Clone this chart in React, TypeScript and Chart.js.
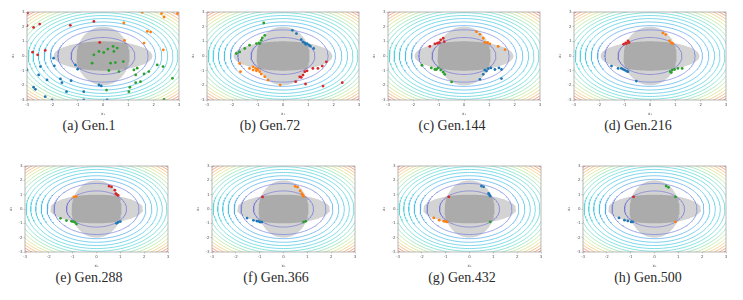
import React, { useEffect, useRef } from "react";
import { Chart, registerables } from "chart.js";
Chart.register(...registerables);

// ---------- data ----------
const AXIS_TICKS = [-3, -2, -1, 0, 1, 2, 3];
const AXIS_RANGE = [-3, 3];
// radii of the objective contours (inner to outer)
const CONTOUR_RADII = [1.26, 1.78, 2.07, 2.32, 2.55, 2.76, 2.95, 3.13, 3.3, 3.46, 3.62, 3.77, 3.91, 4.05, 4.18];
// constraint ellipses: [semi-x, semi-y]
const WIDE_ELLIPSE = [1.95, 1.0];
const TALL_ELLIPSE = [1.05, 2.0];

const GEN1_RED = [[-2.98, 2.93], [-3.0, 2.07], [-2.74, 1.95], [-2.5, 2.18], [-2.78, 0.26], [-2.58, 0.08], [-2.28, 0.38], [-1.29, 2.09], [-0.36, 2.36], [-0.13, 0.92]];
const GEN1_ORANGE = [[1.55, 2.98], [2.31, 2.89], [2.41, 2.66], [2.94, 2.89], [0.82, 2.25], [1.75, 1.68], [1.88, 1.63], [1.62, 0.88], [2.38, 0.42], [0.85, 1.06]];
const GEN1_GREEN = [[0.4, 0.65], [0.56, 0.54], [0.19, 0.47], [0.03, 0.24], [-0.16, 0.31], [-0.36, 0.08], [-0.43, -0.49], [0.3, -0.49], [0.49, -0.45], [0.8, -0.38], [0.63, -1.06], [0.23, -0.99], [1.22, -0.95], [1.35, -0.83], [1.29, -1.29], [1.62, -1.22], [1.81, -1.06], [2.14, -0.61], [2.37, -0.72], [2.74, -1.52], [1.48, -1.75], [1.29, -1.82], [1.06, -2.13], [1.02, -2.43], [2.41, -2.96], [0.14, -2.32], [0.43, 0.31]];
const GEN1_BLUE = [[-3.0, -0.95], [-2.47, -0.72], [-2.54, -1.29], [-1.95, -0.15], [-1.92, -0.67], [-2.21, -1.63], [-2.67, -2.27], [-2.74, -2.13], [-1.68, -1.56], [-1.62, -1.82], [-1.09, -0.61], [-1.0, -0.9], [-1.26, -1.68], [-1.44, -2.43], [-2.01, -3.0], [-2.28, -2.77], [-0.76, -2.43], [-0.76, -3.0], [-0.16, -1.97], [-0.07, -2.04], [0.16, -3.0]];

const GEN72_RED = [[0.79, -1.3], [0.86, -1.07], [0.95, -1.01], [0.72, -1.46], [0.5, -1.75], [1.18, -0.85], [1.38, -0.85], [1.55, -0.69], [1.71, -0.4], [0.89, -1.91], [1.58, -2.05], [2.34, -1.82], [0.66, -1.42]];
const GEN72_ORANGE = [[-1.71, -0.51], [-1.68, -1.07], [-1.32, -0.85], [-1.18, -0.96], [-1.05, -1.01], [-0.99, -0.92], [-0.92, -1.07], [-0.86, -1.23], [-0.72, -1.41], [-0.59, -1.64], [-0.11, -1.98], [-1.18, -0.74], [-1.08, -0.85]];
const GEN72_GREEN = [[-0.76, 2.25], [-1.32, 0.74], [-1.51, 0.51], [-1.71, 0.28], [-1.84, 0.17], [-1.05, 0.85], [-0.95, 0.89], [-0.86, 1.07], [-0.82, 1.23], [-0.72, 1.41], [-0.92, 0.85]];
const GEN72_BLUE = [[0.37, 1.75], [0.53, 1.53], [0.79, 0.96], [0.86, 0.89], [0.95, 0.85], [1.03, 0.74], [0.72, 1.12], [1.21, 0.51], [1.08, 0.67], [0.9, 0.8]];

const GEN144_RED = [[-1.35, 0.65], [-1.15, 0.83], [-1.05, 0.87], [-0.92, 1.1], [-0.82, 1.21], [-0.78, 0.98], [-0.97, 0.92]];
const GEN144_ORANGE = [[0.49, 1.66], [0.63, 1.48], [0.76, 1.21], [0.82, 0.92], [0.93, 0.92], [1.02, 0.83], [1.35, 0.65], [1.62, 0.43]];
const GEN144_GREEN = [[-1.66, -0.63], [-1.29, -0.81], [-1.15, -0.92], [-1.02, -0.81], [-0.92, -0.96], [-0.82, -1.1], [-0.76, -1.25], [-0.49, -1.77], [-1.09, -0.92]];
const GEN144_BLUE = [[0.82, -0.96], [0.96, -0.87], [1.06, -0.81], [1.22, -0.92], [1.38, -0.81], [1.48, -0.92], [0.63, -1.59], [0.76, -1.25], [1.48, -1.54], [0.89, -1.03]];

const GEN216_RED = [[-1.04, 0.8], [-0.96, 0.89], [-0.87, 1.03], [-0.83, 0.92], [-0.93, 0.85]];
const GEN216_ORANGE = [[0.51, 1.57], [0.62, 1.46], [0.77, 1.03], [0.84, 0.89], [0.9, 0.85]];
const GEN216_GREEN = [[0.8, -1.07], [0.88, -0.96], [0.97, -0.92], [1.1, -0.85], [1.27, -0.85], [0.84, -1.13]];
const GEN216_BLUE = [[-1.52, -0.69], [-1.26, -0.85], [-1.13, -0.85], [-1.0, -0.96], [-0.93, -1.03], [-0.87, -1.07], [-0.54, -1.71], [-1.06, -0.91]];

const GEN288_RED = [[0.53, 1.59], [0.63, 1.54], [0.77, 1.31], [0.81, 1.07], [0.91, 0.95], [0.86, 1.0]];
const GEN288_ORANGE = [[-0.95, 0.84], [-0.86, 0.88]];
const GEN288_GREEN = [[-1.51, -0.65], [-1.26, -0.81], [-1.05, -0.86], [-0.91, -0.93], [-0.84, -1.05], [-0.98, -0.88]];
const GEN288_BLUE = [[0.84, -1.0], [0.91, -0.93], [1.0, -0.88]];

const GEN366_RED = [[-0.88, 0.84]];
const GEN366_ORANGE = [[0.49, 1.58], [0.59, 1.53], [0.7, 1.26], [0.77, 1.07], [0.84, 0.88], [0.81, 0.97]];
const GEN366_GREEN = [[0.84, -0.91], [0.93, -0.86]];
const GEN366_BLUE = [[-1.53, -0.63], [-1.26, -0.79], [-1.12, -0.84], [-0.98, -0.91], [-0.91, -0.91], [-1.05, -0.86]];

const GEN432_RED = [[-0.87, 0.85]];
const GEN432_ORANGE = [[-1.5, -0.62], [-1.27, -0.78], [-1.08, -0.85], [-0.94, -0.9], [-1.01, -0.88]];
const GEN432_GREEN = [[0.87, -0.9]];
const GEN432_BLUE = [[0.5, 1.6], [0.59, 1.55], [0.8, 1.09], [0.87, 0.9], [0.84, 0.98]];

const GEN500_RED = [[-0.88, 0.85]];
const GEN500_ORANGE = [[0.88, -0.9]];
const GEN500_GREEN = [[0.49, 1.6], [0.59, 1.51], [0.88, 0.85]];
const GEN500_BLUE = [[-1.49, -0.62], [-1.26, -0.78], [-1.12, -0.83], [-0.98, -0.9], [-0.92, -0.9]];

const CAPTIONS = ["(a) Gen.1", "(b) Gen.72", "(c) Gen.144", "(d) Gen.216", "(e) Gen.288", "(f) Gen.366", "(g) Gen.432", "(h) Gen.500"];

const PANEL_POINTS = [
  [GEN1_RED, GEN1_ORANGE, GEN1_GREEN, GEN1_BLUE],
  [GEN72_RED, GEN72_ORANGE, GEN72_GREEN, GEN72_BLUE],
  [GEN144_RED, GEN144_ORANGE, GEN144_GREEN, GEN144_BLUE],
  [GEN216_RED, GEN216_ORANGE, GEN216_GREEN, GEN216_BLUE],
  [GEN288_RED, GEN288_ORANGE, GEN288_GREEN, GEN288_BLUE],
  [GEN366_RED, GEN366_ORANGE, GEN366_GREEN, GEN366_BLUE],
  [GEN432_RED, GEN432_ORANGE, GEN432_GREEN, GEN432_BLUE],
  [GEN500_RED, GEN500_ORANGE, GEN500_GREEN, GEN500_BLUE],
];

// ---------- layout / style ----------
const SERIES_COLORS = ["#d62728", "#ff7f0e", "#2ca02c", "#1f77b4"];
const CONTOUR_COLORS = [
  "#7474d6", "#7482dc", "#4aa8e8", "#42bce6", "#45c6e2", "#4bcedc", "#55d4d4", "#68dac6",
  "#8ae0ae", "#b0e592", "#d2e07e", "#eeca70", "#f7a860", "#f27c4e", "#e64a3a",
];
const LAYOUT = [
  { left: 27, top: 12, w: 152, h: 88, cx: 89, cy: 126 },
  { left: 207, top: 12, w: 152, h: 88, cx: 270, cy: 126 },
  { left: 388, top: 12, w: 152, h: 88, cx: 452, cy: 126 },
  { left: 574, top: 12, w: 152, h: 88, cx: 638, cy: 126 },
  { left: 25, top: 166, w: 143, h: 86, cx: 89, cy: 278 },
  { left: 212, top: 166, w: 143, h: 86, cx: 276, cy: 278 },
  { left: 398, top: 166, w: 143, h: 86, cx: 462, cy: 278 },
  { left: 583, top: 166, w: 143, h: 86, cx: 648, cy: 278 },
];
const Y_AXIS_W = 16;
const X_AXIS_H = 16;
const PAD = 4;

function ellipseRadius(a: number, b: number, th: number) {
  const c = Math.cos(th), s = Math.sin(th);
  return 1 / Math.sqrt((c * c) / (a * a) + (s * s) / (b * b));
}

function shapePoints(radiusAt: (th: number) => number, n = 180) {
  const pts = [];
  for (let i = 0; i <= n; i++) {
    const th = (i / n) * Math.PI * 2;
    const r = radiusAt(th);
    pts.push({ x: r * Math.cos(th), y: r * Math.sin(th) });
  }
  return pts;
}

const framePlugin = {
  id: "frame",
  afterDatasetsDraw(chart: any) {
    const { ctx, chartArea } = chart;
    ctx.save();
    ctx.strokeStyle = "#9a9a9a";
    ctx.lineWidth = 0.7;
    ctx.strokeRect(chartArea.left, chartArea.top, chartArea.right - chartArea.left, chartArea.bottom - chartArea.top);
    ctx.restore();
  },
};

function Panel({ idx }: { idx: number }) {
  const ref = useRef<HTMLCanvasElement>(null);
  const L = LAYOUT[idx];
  const cw = L.w + Y_AXIS_W + PAD;
  const ch = L.h + X_AXIS_H + PAD;
  useEffect(() => {
    const pts = PANEL_POINTS[idx];
    const datasets: any[] = [];
    pts.forEach((arr, k) => {
      datasets.push({
        data: arr.map(([x, y]) => ({ x, y })),
        pointRadius: 1.4,
        pointBackgroundColor: SERIES_COLORS[k],
        pointBorderWidth: 0,
        showLine: false,
      });
    });
    CONTOUR_RADII.forEach((r, i) => {
      datasets.push({
        data: shapePoints(() => r),
        showLine: true,
        borderColor: CONTOUR_COLORS[i],
        borderWidth: 0.7,
        pointRadius: 0,
        fill: false,
      });
    });
    const [wa, wb] = WIDE_ELLIPSE;
    const [ta, tb] = TALL_ELLIPSE;
    datasets.push({
      data: shapePoints((th) => Math.min(ellipseRadius(wa, wb, th), ellipseRadius(ta, tb, th))),
      showLine: true, borderWidth: 0, pointRadius: 0, fill: "shape", backgroundColor: "#ababab",
    });
    datasets.push({
      data: shapePoints((th) => ellipseRadius(ta, tb, th)),
      showLine: true, borderWidth: 0, pointRadius: 0, fill: "shape", backgroundColor: "#d3d3d3",
    });
    datasets.push({
      data: shapePoints((th) => ellipseRadius(wa, wb, th)),
      showLine: true, borderWidth: 0, pointRadius: 0, fill: "shape", backgroundColor: "#d3d3d3",
    });
    const tickFont = { family: "DejaVu Sans", size: 4 };
    const axis = (which: "x" | "y") => ({
      type: "linear",
      min: AXIS_RANGE[0],
      max: AXIS_RANGE[1],
      afterBuildTicks: (s: any) => { s.ticks = AXIS_TICKS.map((v) => ({ value: v })); },
      afterFit: (s: any) => { if (which === "x") s.height = X_AXIS_H; else s.width = Y_AXIS_W; },
      ticks: { font: tickFont, color: "#555", padding: 1, autoSkip: false, maxRotation: 0, callback: (v: any) => String(v) },
      grid: { drawOnChartArea: false, tickLength: 1.5, color: "#999", lineWidth: 0.5 },
      border: { display: false },
      title: { display: true, text: which === "x" ? "x₁" : "x₂", font: tickFont, color: "#555", padding: 0 },
    });
    const chart = new Chart(ref.current!, {
      type: "scatter",
      data: { datasets },
      options: {
        responsive: false,
        animation: false,
        devicePixelRatio: 1,
        layout: { padding: { top: PAD, right: PAD, left: 0, bottom: 0 } },
        plugins: { legend: { display: false }, tooltip: { enabled: false } },
        scales: { x: axis("x") as any, y: axis("y") as any },
      },
      plugins: [framePlugin],
    });
    return () => chart.destroy();
  }, [idx]);
  return (
    <>
      <canvas
        ref={ref}
        width={cw}
        height={ch}
        style={{ position: "absolute", left: L.left - Y_AXIS_W, top: L.top - PAD, width: cw, height: ch }}
      />
      <div
        style={{
          position: "absolute",
          left: L.cx,
          top: L.cy - 9,
          transform: "translateX(-50%)",
          fontFamily: "'Liberation Serif', serif",
          fontSize: 14,
          lineHeight: "18px",
          whiteSpace: "nowrap",
          color: "#2a2a2a",
        }}
      >
        {CAPTIONS[idx]}
      </div>
    </>
  );
}

export default function App() {
  return (
    <div style={{ position: "absolute", left: 0, top: 0, width: 743, height: 300, background: "#fff" }}>
      {LAYOUT.map((_, i) => (
        <Panel key={i} idx={i} />
      ))}
    </div>
  );
}
